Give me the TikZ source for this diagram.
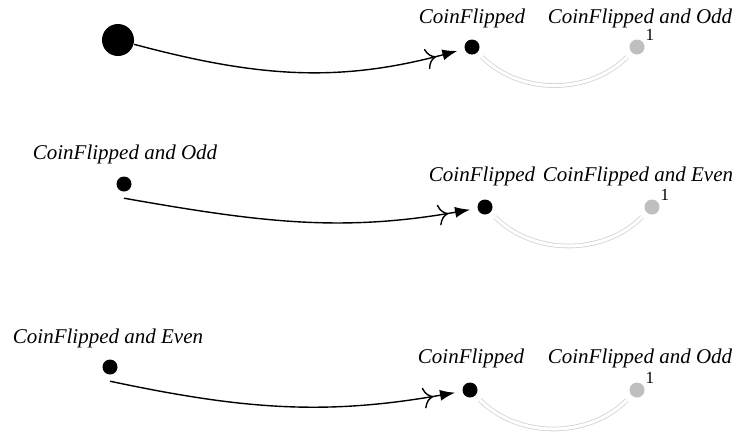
\documentclass[tikz,border=0pt]{standalone}
\usepackage{fontspec}
\setmainfont{Liberation Serif}
\usetikzlibrary{arrows.meta}

\begin{document}
\begin{tikzpicture}[x=0.5pt,y=-0.5pt,line width=0.7pt,
    flow/.style={-{To[scale=1.6,sep=3.5pt]Latex[length=7.5pt,width=5.5pt]},shorten >=3.5pt},
    link/.style={draw=gray!35,double=white,double distance=1.5pt,line width=0.4pt,shorten <=3pt,shorten >=3pt,out=-45,in=-135}]
    \tikzstyle{every node}=[font=\fontsize{10.5}{12}\selectfont\itshape]
    \tikzstyle{bigdot}=[circle,fill,inner sep=0pt,minimum size=16pt]
    \tikzstyle{dot}=[circle,fill,inner sep=0pt,minimum size=7.5pt]
    \tikzstyle{greydot}=[dot,fill=gray!50]
    \tikzstyle{num}=[font=\fontsize{8.5}{9}\selectfont,inner sep=0pt,anchor=south west]
    \useasboundingbox (0,0) rectangle (749,436);

    \node[bigdot] (s1) at (118,40) {};
    \node[dot] (c1) at (472,47) {};
    \node[greydot] (e1) at (637,47) {};
    \node (c1t) at (472,18) {CoinFlipped};
    \node (e1t) at (640,18) {CoinFlipped and Odd};
    \node[num] (e1n) at ([xshift=1pt]e1.north east) {1};
    \path (s1) edge [flow, out=-15, in=195] (c1);
    \path (c1) edge [link] (e1);

    \node[dot] (s2) at (124,184) {};
    \node (s2t) at (125,154) {CoinFlipped and Odd};
    \coordinate (s2o) at ([yshift=-3pt]s2.south);
    \node[dot] (c2) at (485,207) {};
    \node[greydot] (e2) at (652,207) {};
    \node (c2t) at (482,176) {CoinFlipped};
    \node (e2t) at (638,176) {CoinFlipped and Even};
    \node[num] (e2n) at ([xshift=1pt]e2.north east) {1};
    \path (s2o) edge [flow, out=-10, in=190] (c2);
    \path (c2) edge [link] (e2);

    \node[dot] (s3) at (110,367) {};
    \node (s3t) at (108,338) {CoinFlipped and Even};
    \coordinate (s3o) at ([yshift=-3pt]s3.south);
    \node[dot] (c3) at (470,390) {};
    \node[greydot] (e3) at (637,390) {};
    \node (c3t) at (471,358) {CoinFlipped};
    \node (e3t) at (640,358) {CoinFlipped and Odd};
    \node[num] (e3n) at ([xshift=1pt]e3.north east) {1};
    \path (s3o) edge [flow, out=-12, in=190] (c3);
    \path (c3) edge [link] (e3);
\end{tikzpicture}
\end{document}
